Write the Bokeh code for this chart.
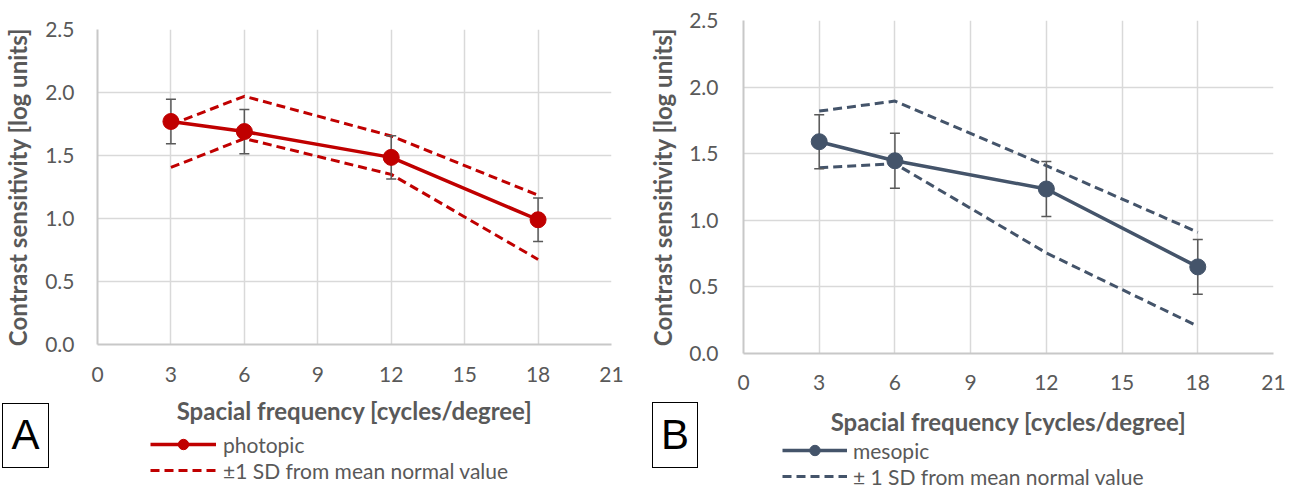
from bokeh.plotting import figure
from bokeh.layouts import row, column
from bokeh.models import (FixedTicker, PrintfTickFormatter, Legend, LegendItem,
                          Range1d, Div)
from bokeh.embed import file_html
from bokeh.resources import INLINE

# ---- data ----
freq = [3, 6, 12, 18]
photopic = [1.77, 1.69, 1.485, 0.99]
photopic_err = [0.176, 0.176, 0.172, 0.172]
photopic_sd_upper = [1.745, 1.97, 1.655, 1.185]
photopic_sd_lower = [1.405, 1.635, 1.35, 0.675]
mesopic = [1.59, 1.447, 1.235, 0.65]
mesopic_err = [0.203, 0.206, 0.207, 0.206]
mesopic_sd_upper = [1.82, 1.895, 1.41, 0.91]
mesopic_sd_lower = [1.395, 1.425, 0.755, 0.205]
x_ticks = [0, 3, 6, 9, 12, 15, 18, 21]
y_ticks = [0.0, 0.5, 1.0, 1.5, 2.0, 2.5]
x_title = "Spacial frequency [cycles/degree]"
y_title = "Contrast sensitivity [log units]"

GRAY = "#595959"
FONT = "Lato"
DASH = "9 5"


def make_panel(width, height, left, right, top, bottom, color, means, errs, upper, lower,
               tick_standoff_x, tick_standoff_y, title_standoff_x, title_standoff_y):
    p = figure(width=width, height=height, output_backend="svg", toolbar_location=None,
               x_range=Range1d(0, 21), y_range=Range1d(0, 2.5),
               min_border_left=left, min_border_right=right,
               min_border_top=top, min_border_bottom=bottom)
    p.outline_line_color = None
    p.background_fill_color = "white"
    p.border_fill_color = "white"

    for ax in (p.xaxis[0], p.yaxis[0]):
        ax.major_tick_line_color = None
        ax.minor_tick_line_color = None
        ax.major_tick_out = 0
        ax.major_tick_in = 0
        ax.axis_line_color = "#c8c8c8"
        ax.axis_line_width = 2
        ax.major_label_text_font = FONT
        ax.major_label_text_font_size = "21px"
        ax.major_label_text_color = GRAY
        ax.axis_label_text_font = FONT
        ax.axis_label_text_font_style = "bold"
        ax.axis_label_text_font_size = "24px"
        ax.axis_label_text_color = GRAY

    p.xaxis.ticker = FixedTicker(ticks=x_ticks)
    p.yaxis.ticker = FixedTicker(ticks=y_ticks)
    p.yaxis.formatter = PrintfTickFormatter(format="%.1f")
    p.xaxis.axis_label = x_title
    p.yaxis.axis_label = y_title
    p.xaxis.major_label_standoff = tick_standoff_x
    p.yaxis.major_label_standoff = tick_standoff_y
    p.xaxis.axis_label_standoff = title_standoff_x
    p.yaxis.axis_label_standoff = title_standoff_y

    for g in (p.xgrid[0], p.ygrid[0]):
        g.grid_line_color = "#d9d9d9"
        g.grid_line_width = 1.5

    p.line(freq, upper, line_color=color, line_width=3, line_dash=DASH)
    p.line(freq, lower, line_color=color, line_width=3, line_dash=DASH)
    p.line(freq, means, line_color=color, line_width=3.5)

    tops = [m + e for m, e in zip(means, errs)]
    bots = [m - e for m, e in zip(means, errs)]
    p.segment(x0=freq, y0=bots, x1=freq, y1=tops, line_color=GRAY, line_width=1.5)
    p.scatter(freq, tops, marker="dash", size=10, line_color=GRAY, line_width=1.5)
    p.scatter(freq, bots, marker="dash", size=10, line_color=GRAY, line_width=1.5)

    p.scatter(freq, means, marker="circle", size=16, fill_color=color, line_color=color)
    return p


def legend_strip(width, height, left, right, color, means, upper, name, sd_name, loc,
                 spacing, standoff, glyph_w):
    # a transparent strip under the chart that holds its legend; its key renderers
    # carry the series but lie outside the strip's (empty) view window
    lf = figure(width=width, height=height, output_backend="svg", toolbar_location=None,
                x_range=Range1d(-100, -99), y_range=Range1d(-100, -99),
                x_axis_location=None, y_axis_location=None,
                min_border_left=left, min_border_right=right,
                min_border_top=0, min_border_bottom=0)
    lf.grid.grid_line_color = None
    lf.outline_line_color = None
    lf.background_fill_alpha = 0
    lf.border_fill_alpha = 0
    k_line = lf.line(freq, means, line_color=color, line_width=3.5)
    k_pts = lf.scatter(freq, means, marker="circle", size=16, fill_color=color,
                       line_color=color)
    k_dash = lf.line(freq, upper, line_color=color, line_width=3, line_dash=DASH)
    legend = Legend(items=[LegendItem(label=name, renderers=[k_line, k_pts]),
                           LegendItem(label=sd_name, renderers=[k_dash])],
                    location=loc, orientation="vertical",
                    glyph_width=glyph_w, glyph_height=26, spacing=spacing,
                    label_standoff=standoff, padding=0, margin=0,
                    label_text_font=FONT, label_text_font_size="21px",
                    label_text_color=GRAY, border_line_color=None,
                    background_fill_alpha=0)
    lf.add_layout(legend)
    return lf


def letter_box(letter, top, left, w, h):
    return Div(text=letter, width=w, height=h, margin=(top, 0, 0, left),
               styles={"border": "1.3px solid black", "box-sizing": "border-box",
                       "font-family": "Liberation Sans, Arial, sans-serif",
                       "font-size": "42px", "color": "black", "text-align": "center",
                       "line-height": f"{h - 3}px", "background": "white"})


pA = make_panel(645, 471, 94, 34, 20, 136, "#C00000", photopic, photopic_err,
                photopic_sd_upper, photopic_sd_lower, 22, 23, 11, 10)
pA.margin = (9, 0, 0, 0)
legA = legend_strip(645, 50, 94, 34, "#C00000", photopic, photopic_sd_upper, "photopic",
                    "\u00b11 SD from mean normal value", (53, 1), -4, 7, 66)
legA.margin = (-46, 0, 0, 0)
boxA = letter_box("A", -81, 2, 47, 65)

pB = make_panel(647, 489, 98, 19, 20, 136, "#44546A", mesopic, mesopic_err,
                mesopic_sd_upper, mesopic_sd_lower, 21, 25, 14, 9)
legB = legend_strip(647, 50, 98, 19, "#44546A", mesopic, mesopic_sd_upper, "mesopic",
                    "\u00b1 1 SD from mean normal value", (39, 0), -2, 6, 65)
legB.margin = (-50, 0, 0, 0)
boxB = letter_box("B", -87, 7, 46, 66)

layout = row(column(pA, legA, boxA), column(pB, legB, boxB))

open("out.html", "w").write(file_html(layout, INLINE))
